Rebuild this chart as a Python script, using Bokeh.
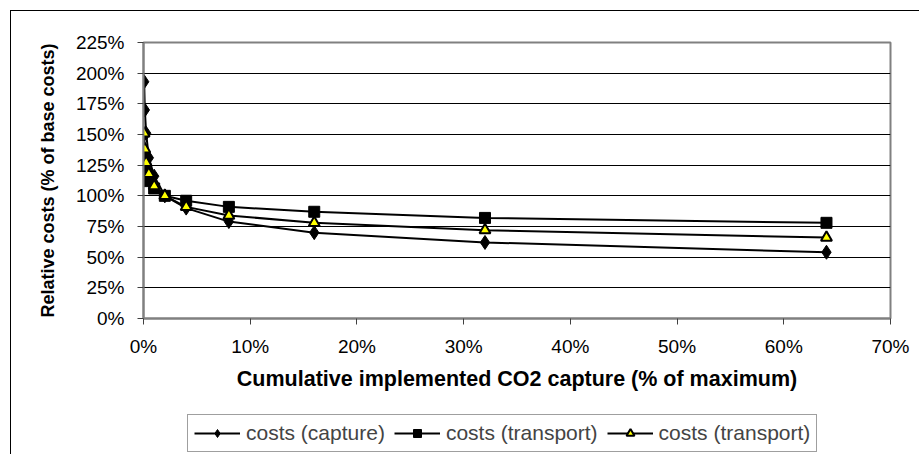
from bokeh.plotting import figure
from bokeh.layouts import column
from bokeh.models import (Legend, LegendItem, Range1d, FixedTicker,
                          PrintfTickFormatter)
from bokeh.embed import file_html
from bokeh.resources import INLINE

# Data (x: cumulative implemented CO2 capture, % of maximum; y: relative costs, %)
x_vals = [0.0625, 0.125, 0.25, 0.5, 1, 2, 4, 8, 16, 32, 64]
capture = [193, 170, 151, 131, 116, 100, 90, 79, 70, 62, 54]
transport_sq = [130, 124, 118, 112, 106, 100, 96, 91, 87, 82, 78]
transport_tri = [151, 138, 127, 118, 108, 100, 91, 84, 78, 72, 66]
series_labels = ["costs (capture)", "costs (transport)", "costs (transport)"]
x_ticks = [0, 10, 20, 30, 40, 50, 60, 70]
y_ticks = [0, 25, 50, 75, 100, 125, 150, 175, 200, 225]
# off-range placeholder values so the legend strip can style its samples
legend_dummy = [-5, -4]

FONT = "Liberation Sans"

p = figure(width=909, height=394, output_backend="svg", toolbar_location=None,
           x_range=Range1d(0, 70), y_range=Range1d(0, 225),
           min_border_left=132, min_border_right=30,
           min_border_top=31, min_border_bottom=87)
p.background_fill_color = "white"
p.border_fill_color = "white"
p.outline_line_color = "#808080"
p.outline_line_width = 2

# grid
p.xgrid.visible = False
p.ygrid.ticker = FixedTicker(ticks=y_ticks)
p.ygrid.grid_line_color = "#000000"
p.ygrid.grid_line_width = 1

for ax in (p.xaxis[0], p.yaxis[0]):
    ax.axis_line_color = "#808080"
    ax.axis_line_width = 2
    ax.major_tick_line_color = "#404040"
    ax.major_tick_out = 6
    ax.major_tick_in = 0
    ax.minor_tick_line_color = None
    ax.major_label_text_font = FONT
    ax.major_label_text_font_size = "19px"
    ax.major_label_text_color = "#000"
    ax.axis_label_text_font = FONT
    ax.axis_label_text_font_style = "bold"
    ax.axis_label_text_color = "#000"
    ax.formatter = PrintfTickFormatter(format="%d%%")

p.xaxis.ticker = FixedTicker(ticks=x_ticks)
p.yaxis.ticker = FixedTicker(ticks=y_ticks)
p.xaxis.axis_label = "Cumulative implemented CO2 capture (% of maximum)"
p.yaxis.axis_label = "Relative costs (% of base costs)"
p.xaxis.axis_label_text_font_size = "21.5px"
p.yaxis.axis_label_text_font_size = "18px"
p.xaxis.major_label_standoff = 11
p.yaxis.major_label_standoff = 13
p.xaxis.axis_label_standoff = 7
p.yaxis.axis_label_standoff = 15

LW = 2
p.line(x_vals, capture, line_color="black", line_width=LW)
p.scatter(x_vals, capture, marker="diamond", size=14,
          fill_color="black", line_color="black")
p.line(x_vals, transport_sq, line_color="black", line_width=LW)
p.scatter(x_vals, transport_sq, marker="square", size=11,
          fill_color="black", line_color="black")
p.line(x_vals, transport_tri, line_color="black", line_width=LW)
p.scatter(x_vals, transport_tri, marker="triangle", size=11,
          fill_color="#ffff00", line_color="black", line_width=2)

# legend strip below the chart
lf = figure(width=909, height=49, output_backend="svg", toolbar_location=None,
            x_range=Range1d(0, 1), y_range=Range1d(0, 1),
            x_axis_type=None, y_axis_type=None,
            min_border_left=0, min_border_right=0,
            min_border_top=0, min_border_bottom=0)
lf.grid.visible = False
lf.outline_line_color = None
lf.background_fill_color = "white"
lf.border_fill_color = "white"

e1 = lf.line(legend_dummy, legend_dummy, line_color="black", line_width=LW)
s1 = lf.scatter(legend_dummy, legend_dummy, marker="diamond", size=13,
                fill_color="black", line_color="black")
e2 = lf.line(legend_dummy, legend_dummy, line_color="black", line_width=LW)
s2 = lf.scatter(legend_dummy, legend_dummy, marker="square", size=10,
                fill_color="black", line_color="black")
e3 = lf.line(legend_dummy, legend_dummy, line_color="black", line_width=LW)
s3 = lf.scatter(legend_dummy, legend_dummy, marker="triangle", size=10,
                fill_color="#ffff00", line_color="black", line_width=2)

legend = Legend(items=[
    LegendItem(label=series_labels[0], renderers=[e1, s1]),
    LegendItem(label=series_labels[1], renderers=[e2, s2]),
    LegendItem(label=series_labels[2], renderers=[e3, s3]),
], orientation="horizontal", location=(44, 2))
legend.label_text_font = FONT
legend.label_text_font_size = "21px"
legend.label_standoff = 6
legend.glyph_width = 46
legend.glyph_height = 20
legend.spacing = 9
legend.padding = 6
legend.margin = 0
legend.border_line_color = "#404040"
legend.border_line_width = 1
legend.background_fill_alpha = 1
lf.add_layout(legend, "center")

layout = column(p, lf, spacing=0)
layout.styles = {"margin-left": "10px", "margin-top": "10px",
                 "border-top": "1px solid #000", "border-left": "1px solid #000"}

open("out.html", "w").write(file_html(layout, INLINE))
